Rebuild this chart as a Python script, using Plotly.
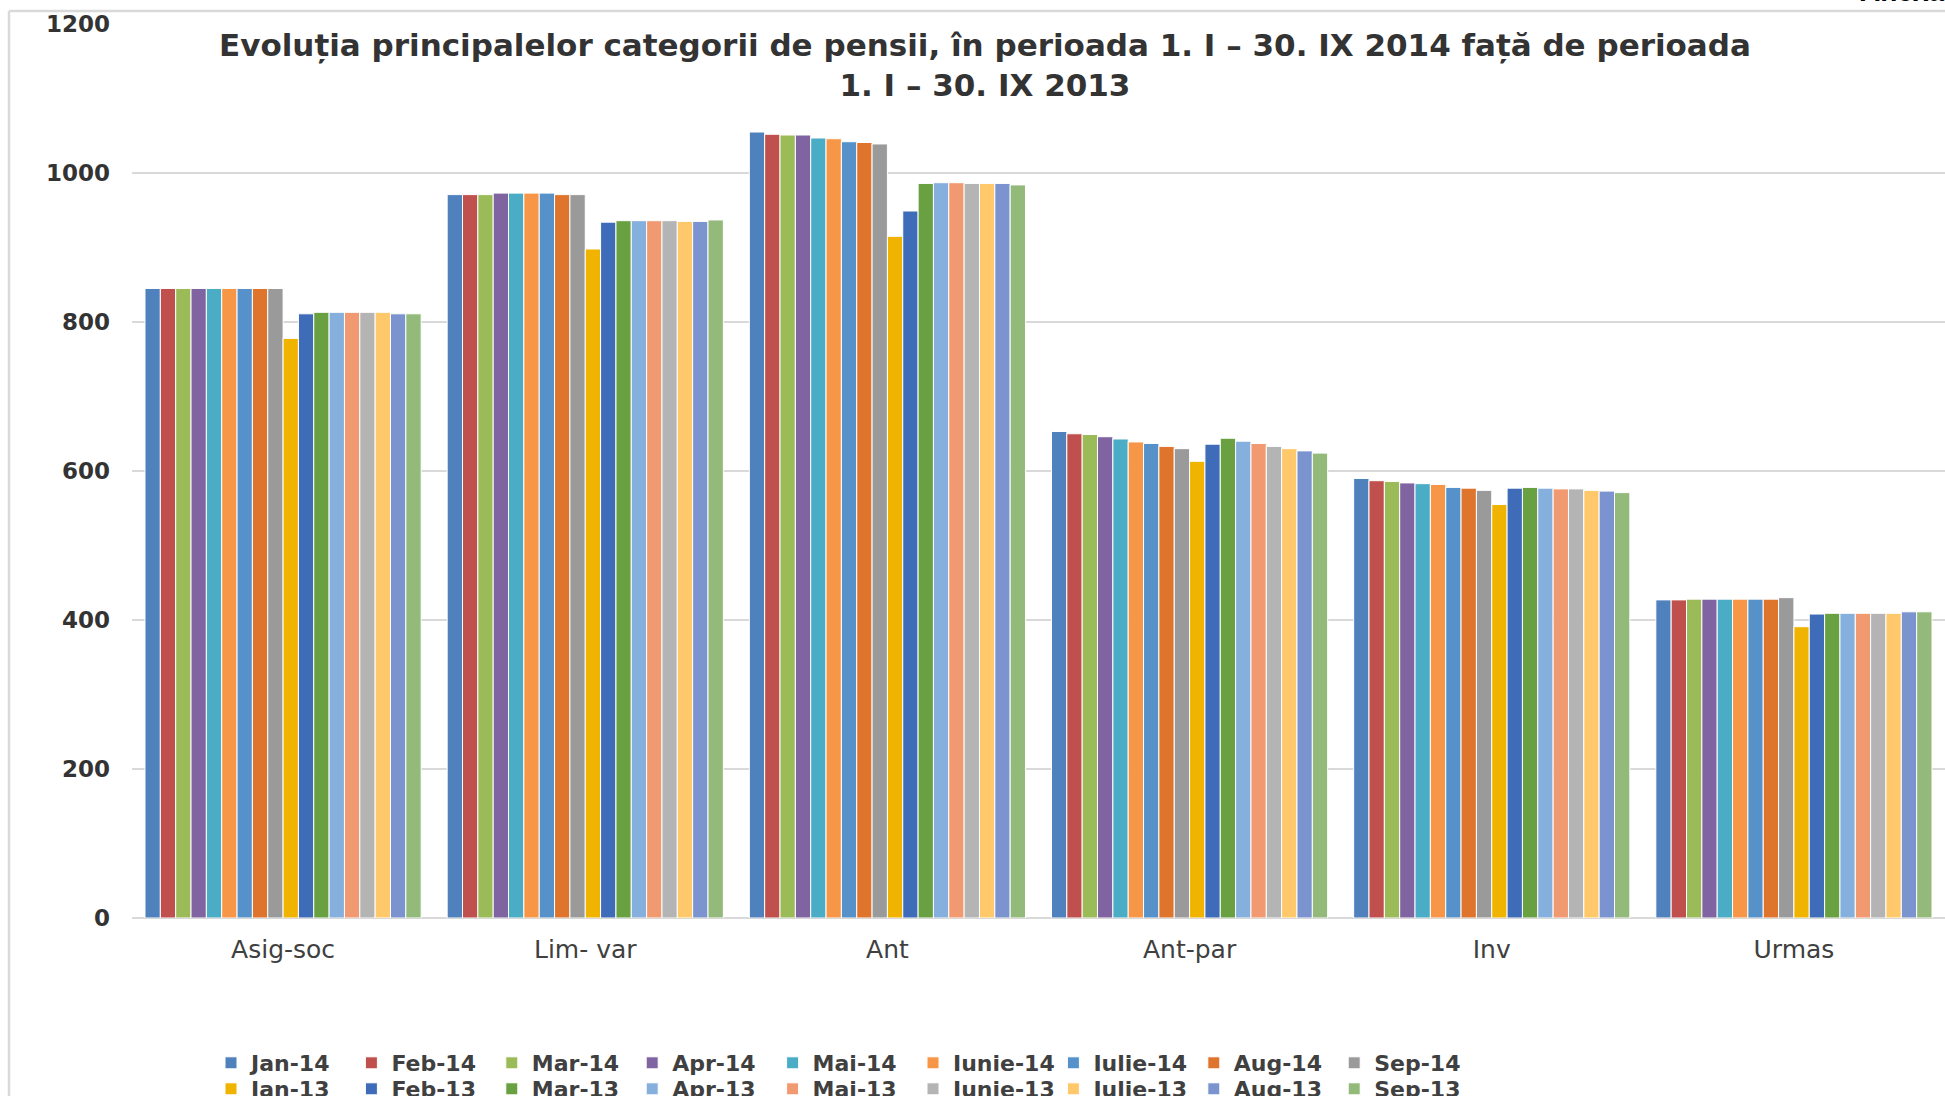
import plotly.graph_objects as go

categories = ["Asig-soc", "Lim- var", "Ant", "Ant-par", "Inv", "Urmas"]

series_names = ["Jan-14", "Feb-14", "Mar-14", "Apr-14", "Mai-14", "Iunie-14", "Iulie-14", "Aug-14", "Sep-14",
                "Jan-13", "Feb-13", "Mar-13", "Apr-13", "Mai-13", "Iunie-13", "Iulie-13", "Aug-13", "Sep-13"]

jan14 = [845, 971, 1055, 653, 590, 427]
feb14 = [845, 971, 1052, 650, 587, 427]
mar14 = [845, 971, 1051, 649, 586, 428]
apr14 = [845, 973, 1051, 646, 584, 428]
mai14 = [845, 973, 1047, 643, 583, 428]
iun14 = [845, 973, 1046, 639, 582, 428]
iul14 = [845, 973, 1042, 637, 578, 428]
aug14 = [845, 971, 1041, 633, 577, 428]
sep14 = [845, 971, 1039, 630, 574, 430]
jan13 = [778, 898, 915, 613, 555, 391]
feb13 = [811, 934, 949, 636, 577, 408]
mar13 = [813, 936, 986, 644, 578, 409]
apr13 = [813, 936, 987, 640, 577, 409]
mai13 = [813, 936, 987, 637, 576, 409]
iun13 = [813, 936, 986, 633, 576, 409]
iul13 = [813, 935, 986, 630, 574, 409]
aug13 = [811, 935, 986, 627, 573, 411]
sep13 = [811, 937, 984, 624, 571, 411]

series_values = [jan14, feb14, mar14, apr14, mai14, iun14, iul14, aug14, sep14,
                 jan13, feb13, mar13, apr13, mai13, iun13, iul13, aug13, sep13]

colors = ["#4F81BD", "#C0504D", "#9BBB59", "#8064A2", "#4BACC6", "#F79646", "#5692C9", "#DF742C", "#9A9A9A",
          "#F0B400", "#3F6CB8", "#69A142", "#85AFDD", "#F19A71", "#B4B4B4", "#FFC96B", "#7B93CF", "#93B97B"]

y_ticks = [0, 200, 400, 600, 800, 1000, 1200]

title_text = ("Evoluția principalelor categorii de pensii, în perioada 1. I – 30. IX 2014 față de perioada"
              "<br>1. I – 30. IX 2013")

W, H = 1945, 1096
L, T, B = 132, 24, 178
PW, PH = W - L, H - T - B


def px_x(x):
    return (x - L) / PW


def px_y(y):
    return 1 - (y - T) / PH


fig = go.Figure()
for i, (name, vals, col) in enumerate(zip(series_names, series_values, colors)):
    fig.add_trace(go.Bar(
        x=categories, y=vals, name=name,
        marker=dict(color=col, line=dict(color="white", width=1)),
        legend="legend" if i < 9 else "legend2",
    ))

FONT = "Liberation Sans, Arial, sans-serif"
WIDE = "DejaVu Sans, Liberation Sans, sans-serif"

legend_common = dict(orientation="h", xref="container", yref="container",
                     x=211 / W, xanchor="left", yanchor="middle",
                     entrywidth=95.4, entrywidthmode="pixels", itemwidth=30, tracegroupgap=0,
                     font=dict(family=WIDE, size=22, color="#404040", weight="bold"),
                     bgcolor="rgba(0,0,0,0)", borderwidth=0)

fig.update_layout(
    template="none",
    width=W, height=H,
    margin=dict(l=L, r=0, t=T, b=B, pad=0, autoexpand=False),
    paper_bgcolor="white", plot_bgcolor="white",
    barmode="group", bargap=0.086, bargroupgap=0.0,
    font=dict(family=FONT, color="#404040"),
    xaxis=dict(range=[-0.5, 5.5], showgrid=False, showline=False, zeroline=False, automargin=False,
               ticks="", tickfont=dict(family=WIDE, size=25, color="#404040"),
               ticklabelstandoff=14),
    yaxis=dict(range=[0, 1200], tickvals=y_ticks, showgrid=True, gridcolor="#D9D9D9", gridwidth=1.5,
               zeroline=True, zerolinecolor="#D9D9D9", zerolinewidth=1.5, showline=False, ticks="",
               automargin=False,
               tickfont=dict(family=WIDE, size=23, color="#333333", weight="bold"),
               ticklabelstandoff=21),
    legend=dict(y=1 - 1063 / H, **legend_common),
    legend2=dict(y=1 - 1089 / H, **legend_common),
    showlegend=True,
)

# chart title
fig.add_annotation(text=title_text, xref="paper", yref="paper", x=px_x(985), xanchor="center",
                   y=px_y(65), yanchor="middle", showarrow=False, align="center",
                   font=dict(family=WIDE, size=31, color="#333333", weight="bold"))

# chart-area border (top and left visible)
fig.add_shape(type="line", xref="paper", yref="paper",
              x0=px_x(9), x1=1.02, y0=px_y(11), y1=px_y(11),
              line=dict(color="#D9D9D9", width=2.5))
fig.add_shape(type="line", xref="paper", yref="paper",
              x0=px_x(9), x1=px_x(9), y0=px_y(11), y1=px_y(1120),
              line=dict(color="#D9D9D9", width=2.5))

fig.add_annotation(text="Anexa", xref="paper", yref="paper", x=px_x(1858), xanchor="left",
                   y=px_y(9), yanchor="bottom", showarrow=False,
                   font=dict(family=FONT, size=28, color="#000000", weight="bold"))

fig.write_html("out.html", config={"displayModeBar": False},
               post_script="document.body.style.margin='0';document.body.style.overflow='hidden';")
